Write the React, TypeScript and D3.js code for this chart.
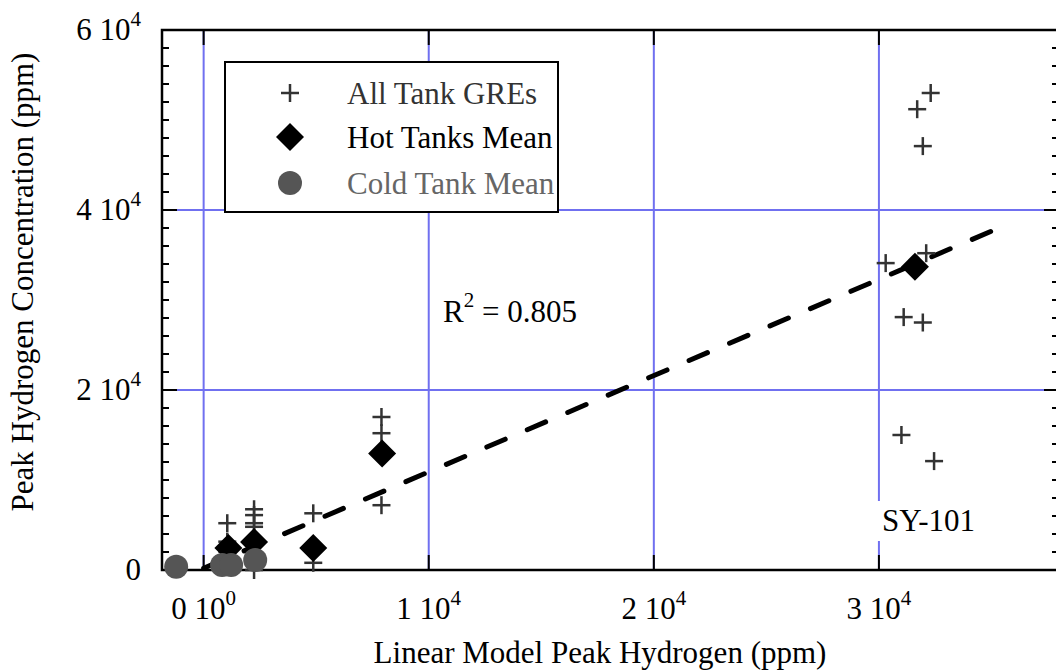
import React from 'react';
import * as d3 from 'd3';

// All Tank GREs (crosses)
const greX = [1050, 1050, 1050, 2240, 2240, 2240, 2240, 2240, 4870, 4870, 7900, 7900, 7900,
  32300, 31700, 31950, 30300, 32100, 31100, 31950, 31000, 32450];
const greY = [5200, 3150, 2050, 6750, 6100, 5200, 4800, 0, 6300, 800, 17000, 15200, 7200,
  53000, 51200, 47100, 34100, 35200, 28100, 27500, 15000, 12100];

// Hot Tanks Mean (diamonds)
const hotX = [1100, 2240, 4870, 7930, 31600];
const hotY = [2450, 3100, 2450, 12950, 33700];

// Cold Tank Mean (circles)
const coldX = [-1220, 820, 1220, 2290];
const coldY = [350, 550, 550, 1100];

// linear fit, R^2 = 0.805
const fitX = [0, 35500];
const fitSlope = 1.07;
const fitIntercept = 200;

const xTicks = [0, 10000, 20000, 30000];
const xTickLabels = [['0 10', '0'], ['1 10', '4'], ['2 10', '4'], ['3 10', '4']];
const yTicks = [0, 20000, 40000, 60000];
const yTickLabels = [['0', ''], ['2 10', '4'], ['4 10', '4'], ['6 10', '4']];
const yMinor = d3.range(0, 60001, 2000);

const legendItems = ['All Tank GREs', 'Hot Tanks Mean', 'Cold Tank Mean'];

const FONT = '"Liberation Serif", "Times New Roman", serif';
const GRID = '#7070f0';
const FS = 31;
const SUP = 21;

const App = () => {
  const width = 1056;
  const height = 671;
  const left = 162, right = 1059, top = 30, bottom = 570;

  const x = d3.scaleLinear().domain([-1850, 38000]).range([left, right]);
  const y = d3.scaleLinear().domain([0, 60000]).range([bottom, top]);

  const fitLine = d3.line<number>()
    .x(d => x(d))
    .y(d => y(fitSlope * d + fitIntercept));

  const diamond = (cx: number, cy: number, s: number) =>
    `M${cx},${cy - s}L${cx + s},${cy}L${cx},${cy + s}L${cx - s},${cy}Z`;

  const cross = (cx: number, cy: number, s: number, key: string) => (
    <g key={key} stroke="#333" strokeWidth={2.5}>
      <line x1={cx - s} x2={cx + s} y1={cy} y2={cy} />
      <line x1={cx} x2={cx} y1={cy - s} y2={cy + s} />
    </g>
  );

  return (
    <svg width={width} height={height} style={{ position: 'absolute', left: 0, top: 0, background: '#fff' }}
      fontFamily={FONT}>
      {/* grid */}
      {xTicks.map(t => (
        <line key={'gx' + t} x1={x(t)} x2={x(t)} y1={top} y2={bottom} stroke={GRID} strokeWidth={2} />
      ))}
      {yTicks.map(t => (
        <line key={'gy' + t} x1={left} x2={right} y1={y(t)} y2={y(t)} stroke={GRID} strokeWidth={2} />
      ))}

      {/* frame */}
      <rect x={left} y={top} width={right - left} height={bottom - top} fill="none" stroke="#000" strokeWidth={2.5} />

      {/* left/right ticks */}
      {yMinor.map(t => {
        const major = t % 20000 === 0;
        const len = major ? 15 : 7;
        return (
          <g key={'yt' + t} stroke="#000" strokeWidth={2}>
            <line x1={left} x2={left + len} y1={y(t)} y2={y(t)} />
            <line x1={right} x2={right - len} y1={y(t)} y2={y(t)} />
          </g>
        );
      })}
      {/* top/bottom ticks */}
      {xTicks.map(t => (
        <g key={'xt' + t} stroke="#000" strokeWidth={2}>
          <line x1={x(t)} x2={x(t)} y1={bottom} y2={bottom - 15} />
          <line x1={x(t)} x2={x(t)} y1={top} y2={top + 15} />
        </g>
      ))}

      {/* x tick labels */}
      {xTicks.map((t, i) => (
        <text key={'xl' + t} x={x(t)} y={bottom + 49} textAnchor="middle" fontSize={FS} fill="#000">
          {xTickLabels[i][0]}
          <tspan dy={-14} fontSize={SUP}>{xTickLabels[i][1]}</tspan>
        </text>
      ))}
      {/* y tick labels */}
      {yTicks.map((t, i) => (
        <text key={'yl' + t} x={141} y={y(t) + 10} textAnchor="end" fontSize={FS} fill="#000">
          {yTickLabels[i][0]}
          {yTickLabels[i][1] && <tspan dy={-14} fontSize={SUP}>{yTickLabels[i][1]}</tspan>}
        </text>
      ))}

      {/* axis titles */}
      <text x={600} y={663} textAnchor="middle" fontSize={FS} fill="#000">
        Linear Model Peak Hydrogen (ppm)
      </text>
      <text transform="translate(33,282) rotate(-90)" textAnchor="middle" fontSize={FS} fill="#000">
        Peak Hydrogen Concentration (ppm)
      </text>

      {/* SY-101 label */}
      <rect x={x(30000) - 4} y={501} width={100} height={40} fill="#fff" />
      <text x={882} y={531} fontSize={FS} fill="#000">SY-101</text>

      {/* fit line */}
      <path d={fitLine(fitX) || ''} fill="none" stroke="#000" strokeWidth={5}
        strokeDasharray="20 24" strokeLinecap="round" />

      {/* R^2 */}
      <text x={443} y={322} fontSize={FS} fill="#000">
        R<tspan dy={-15} fontSize={SUP}>2</tspan><tspan dy={15}> = 0.805</tspan>
      </text>

      {/* points */}
      {greX.map((v, i) => cross(x(v), y(greY[i]), 9, 'c' + i))}
      {hotX.map((v, i) => (
        <path key={'h' + i} d={diamond(x(v), y(hotY[i]), 14)} fill="#000" />
      ))}
      {coldX.map((v, i) => (
        <circle key={'k' + i} cx={x(v)} cy={y(coldY[i])} r={12} fill="#555" />
      ))}

      {/* legend */}
      <rect x={225} y={62} width={333} height={150} fill="#fff" stroke="#000" strokeWidth={2} />
      {cross(290, 93, 9, 'lg0')}
      <path d={diamond(290, 137, 14)} fill="#000" />
      <circle cx={290} cy={183} r={12} fill="#555" />
      {legendItems.map((name, i) => (
        <text key={name} x={347} y={[93, 137, 183][i] + 11} fontSize={FS}
          fill={['#333', '#000', '#666'][i]}>{name}</text>
      ))}
    </svg>
  );
};

export default App;
